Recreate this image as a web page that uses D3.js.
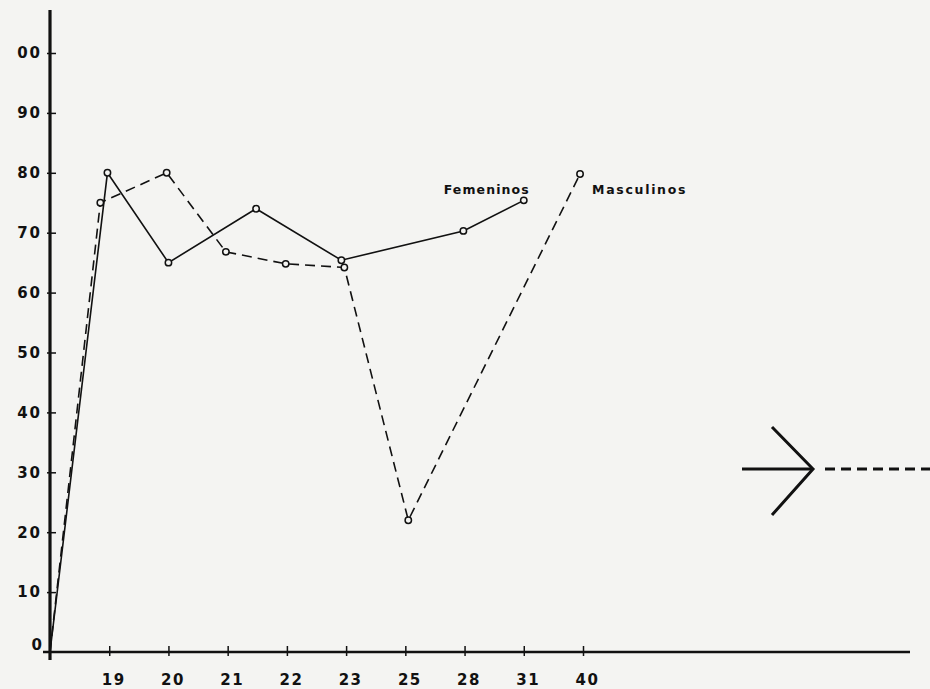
<!DOCTYPE html>
<html>
<head>
<meta charset="utf-8">
<script src="https://cdn.jsdelivr.net/npm/d3@7"></script>
<style>
  body { margin: 0; background: #f4f4f2; }
  text { font-family: "DejaVu Sans", sans-serif; fill: #111; }
</style>
</head>
<body>
<script>
// x positions are category slots: 0 = origin, 1 = "19" ... 9 = "40"
var xLabels = ["19", "20", "21", "22", "23", "25", "28", "31", "40"];
var yTicks = [0, 10, 20, 30, 40, 50, 60, 70, 80, 90, 100];
var yLabels = ["0", "10", "20", "30", "40", "50", "60", "70", "80", "90", "00"];

// Femeninos (solid line)
var femX = [0, 0.97, 2, 3.48, 4.92, 6.98, 8];
var femV = [0, 80, 65, 74, 65.4, 70.3, 75.4];

// Masculinos (dashed line)
var mascX = [0, 0.85, 1.97, 2.97, 3.98, 4.97, 6.05, 8.95];
var mascV = [0, 75, 80, 66.8, 64.8, 64.2, 22, 79.8];

var W = 930, H = 689;
var svg = d3.select("body").append("svg")
    .attr("width", W)
    .attr("height", H);

svg.append("rect").attr("width", W).attr("height", H).attr("fill", "#f4f4f2");

var x = d3.scaleLinear().domain([0, 9]).range([50, 583]);
var y = d3.scaleLinear().domain([0, 100]).range([652, 53]);

// ---- axes ----
var yAxis = svg.append("g")
    .attr("transform", "translate(" + x(0) + ",0)")
    .call(d3.axisLeft(y).tickValues(yTicks.slice(1))
        .tickFormat(function(d) { return yLabels[yTicks.indexOf(d)]; })
        .tickSize(-6).tickPadding(8));
yAxis.select(".domain").remove();
yAxis.selectAll("line").attr("x1", -3).attr("x2", 6).attr("stroke", "#111").attr("stroke-width", 1.5);
yAxis.selectAll("text")
    .style("font-size", "15px").style("font-weight", "bold").style("letter-spacing", "2px")
    .attr("fill", "#111");

// the zero label sits right on the x axis
svg.append("text")
    .attr("x", x(0) - 8)
    .attr("y", y(0) - 2)
    .attr("text-anchor", "end")
    .style("font-size", "15px")
    .style("font-weight", "bold")
    .text(yLabels[0]);

var xAxis = svg.append("g")
    .attr("transform", "translate(0," + y(0) + ")")
    .call(d3.axisBottom(x).tickValues(d3.range(1, 10))
        .tickFormat(function(d) { return xLabels[d - 1]; })
        .tickSize(-6).tickPadding(22));
xAxis.select(".domain").remove();
xAxis.selectAll("line").attr("y1", 4).attr("stroke", "#111").attr("stroke-width", 1.5);
xAxis.selectAll("text")
    .style("font-size", "15px").style("font-weight", "bold").style("letter-spacing", "1.5px")
    .attr("dx", "4px")
    .attr("fill", "#111");

// axis lines drawn heavy, like the hand drawn original
svg.append("line")
    .attr("x1", x(0)).attr("x2", x(0))
    .attr("y1", 10).attr("y2", y(0) + 8)
    .attr("stroke", "#111").attr("stroke-width", 3.2);
svg.append("line")
    .attr("x1", x(0) - 7).attr("x2", 910)
    .attr("y1", y(0)).attr("y2", y(0))
    .attr("stroke", "#111").attr("stroke-width", 2.6);

// ---- series ----
var fem = femX.map(function(d, i) { return { i: d, v: femV[i] }; });
var masc = mascX.map(function(d, i) { return { i: d, v: mascV[i] }; });

var line = d3.line()
    .x(function(d) { return x(d.i); })
    .y(function(d) { return y(d.v); });

svg.append("path")
    .datum(masc)
    .attr("d", line)
    .attr("fill", "none")
    .attr("stroke", "#111")
    .attr("stroke-width", 1.6)
    .style("stroke-dasharray", "10,6");

svg.append("path")
    .datum(fem)
    .attr("d", line)
    .attr("fill", "none")
    .attr("stroke", "#111")
    .attr("stroke-width", 1.6);

// point markers (not at the origin)
svg.selectAll(".mdot")
    .data(masc.slice(1))
    .enter()
    .append("circle")
    .attr("cx", function(d) { return x(d.i); })
    .attr("cy", function(d) { return y(d.v); })
    .attr("r", 3.2)
    .attr("fill", "#f4f4f2")
    .attr("stroke", "#111")
    .attr("stroke-width", 1.5);

svg.selectAll(".fdot")
    .data(fem.slice(1))
    .enter()
    .append("circle")
    .attr("cx", function(d) { return x(d.i); })
    .attr("cy", function(d) { return y(d.v); })
    .attr("r", 3.2)
    .attr("fill", "#f4f4f2")
    .attr("stroke", "#111")
    .attr("stroke-width", 1.5);

// series labels
var fLast = fem[fem.length - 1], mLast = masc[masc.length - 1];
svg.append("text")
    .attr("x", x(fLast.i) + 6)
    .attr("y", y(fLast.v) - 6)
    .attr("text-anchor", "end")
    .style("font-size", "12.5px")
    .style("font-weight", "bold")
    .style("letter-spacing", "1.1px")
    .text("Femeninos");
svg.append("text")
    .attr("x", x(mLast.i) + 12)
    .attr("y", y(mLast.v) + 20)
    .style("font-size", "12.5px")
    .style("font-weight", "bold")
    .style("letter-spacing", "1.7px")
    .text("Masculinos");

// ---- arrow at the right edge ----
var ay = 469, tip = 813;
svg.append("line")
    .attr("x1", 742).attr("x2", tip).attr("y1", ay).attr("y2", ay)
    .attr("stroke", "#111").attr("stroke-width", 3);
svg.append("polyline")
    .attr("points", [[772, ay - 42], [tip, ay], [772, ay + 46]].join(" "))
    .attr("fill", "none").attr("stroke", "#111").attr("stroke-width", 3);
svg.append("line")
    .attr("x1", 825).attr("x2", W).attr("y1", ay).attr("y2", ay)
    .attr("stroke", "#111").attr("stroke-width", 3)
    .style("stroke-dasharray", "10,6");
</script>
</body>
</html>
